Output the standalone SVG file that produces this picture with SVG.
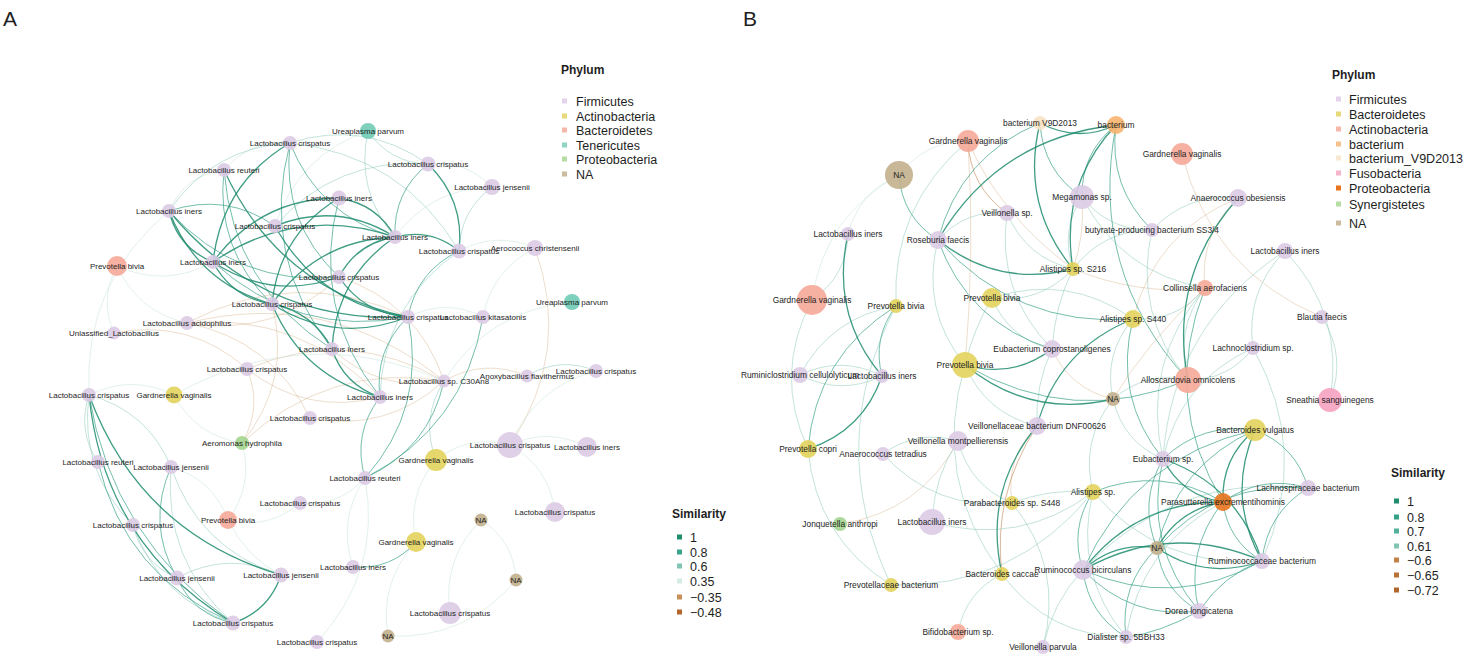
<svg xmlns="http://www.w3.org/2000/svg" width="1466" height="659" viewBox="0 0 1466 659">
<style>
text{font-family:"Liberation Sans",Arial,sans-serif;fill:#1e1e1e}
.lbA text,.lbB text{text-anchor:middle;dominant-baseline:central}
.lbA text{font-size:8px}
.lbB text{font-size:8.4px}
.ttl{font-size:21px}
.lh{font-size:12px;font-weight:bold}
.li{font-size:12.5px}
path{fill:none}
.s1{stroke:#1f8c6e;stroke-width:1.3;opacity:.85}
.s8{stroke:#3aa389;stroke-width:1;opacity:.7}
.s6{stroke:#80c5b3;stroke-width:.8;opacity:.6}
.s3{stroke:#bfe0d6;stroke-width:.7;opacity:.65}
.n1{stroke:#cfa57a;stroke-width:.7;opacity:.55}
.n2{stroke:#b8743a;stroke-width:.8;opacity:.65}
circle{opacity:.9}
.fi{fill:#dccbe6}.ac{fill:#e3d35c}.ba{fill:#f5a898}.te{fill:#6fcbb5}.pr{fill:#a3d58f}.na{fill:#c2b08c}
.bo{fill:#f7b46e}.bc{fill:#f8e3c4}.fu{fill:#f6a2c0}.po{fill:#e8741e}
</style>

<text class="ttl" x="3" y="26">A</text>
<text class="ttl" x="743" y="26">B</text>

<g id="edges-A">
<path class="s3" d="M117 266Q99 299 114 333"/>
<path class="s3" d="M117 266Q166 288 213 262"/>
<path class="s3" d="M117 266Q138 312 187 323"/>
<path class="n1" d="M444 381Q330 288 187 323"/>
<path class="n1" d="M187 323Q275 338 339 277"/>
<path class="n1" d="M380 397Q302 312 187 323"/>
<path class="n1" d="M408 317Q296 265 187 323"/>
<path class="n1" d="M444 381Q349 326 247 369"/>
<path class="n1" d="M247 369Q307 416 380 397"/>
<path class="n1" d="M310 418Q386 433 444 381"/>
<path class="n1" d="M310 418Q272 340 187 323"/>
<path class="n1" d="M444 381Q328 362 242 443"/>
<path class="n1" d="M242 443Q292 381 272 304"/>
<path class="n1" d="M242 443Q263 407 247 369"/>
<path class="s3" d="M444 381Q306 321 174 395"/>
<path class="s3" d="M174 395Q132 374 89 395"/>
<path class="s3" d="M174 395Q196 436 242 443"/>
<path class="s3" d="M228 520Q254 485 242 443"/>
<path class="s3" d="M228 520Q268 530 300 503"/>
<path class="s3" d="M228 520Q213 479 171 467"/>
<path class="s3" d="M300 503Q339 507 365 478"/>
<path class="s3" d="M555 512Q549 467 510 445"/>
<path class="s3" d="M587 447Q549 427 510 445"/>
<path class="s3" d="M510 445Q469 434 436 460"/>
<path class="n1" d="M510 445Q572 353 535 248"/>
<path class="s3" d="M516 580Q514 541 481 520"/>
<path class="s3" d="M481 520Q442 559 450 613"/>
<path class="s3" d="M388 636Q466 640 516 580"/>
<path class="s3" d="M416 542Q379 582 388 636"/>
<path class="s3" d="M572 302Q488 310 444 381"/>
<path class="n1" d="M527 376Q484 358 444 381"/>
<path class="n1" d="M332 349Q380 393 444 381"/>
<path class="n1" d="M444 381Q418 303 339 277"/>
<path class="n1" d="M247 369Q190 318 114 333"/>
<path class="s3" d="M596 371Q535 387 510 445"/>
<path class="s3" d="M436 460Q406 496 416 542"/>
<path class="s3" d="M492 187Q466 160 428 164"/>
<path class="s3" d="M492 187Q431 188 395 237"/>
<path class="s3" d="M169 211Q83 283 89 395"/>
<path class="s3" d="M290 143Q250 140 224 170"/>
<path class="s3" d="M368 131Q298 155 275 226"/>
<path class="s3" d="M224 170Q185 175 169 211"/>
<path class="s3" d="M365 478Q337 520 353 567"/>
<path class="s3" d="M483 317Q446 298 408 317"/>
<path class="s3" d="M317 642Q382 572 365 478"/>
<path class="s3" d="M228 520Q247 558 281 575"/>
<path class="s3" d="M535 248Q492 270 483 317"/>
<path class="s3" d="M535 248Q496 231 459 251"/>
<path class="s6" d="M444 381Q420 419 436 460"/>
<path class="s6" d="M596 371Q560 356 527 376"/>
<path class="s6" d="M492 187Q460 211 459 251"/>
<path class="s6" d="M368 131Q355 191 395 237"/>
<path class="s6" d="M368 131Q390 163 428 164"/>
<path class="s6" d="M290 143Q213 147 169 211"/>
<path class="s6" d="M459 251Q402 155 290 143"/>
<path class="s6" d="M428 164Q336 157 275 226"/>
<path class="s6" d="M459 251Q383 304 380 397"/>
<path class="s6" d="M428 164Q364 119 290 143"/>
<path class="s6" d="M133 525Q142 563 177 578"/>
<path class="s6" d="M89 395Q79 471 133 525"/>
<path class="s6" d="M171 467Q148 411 89 395"/>
<path class="s6" d="M281 575Q228 550 177 578"/>
<path class="s6" d="M171 467Q199 549 281 575"/>
<path class="s6" d="M133 525Q159 599 233 623"/>
<path class="s6" d="M89 395Q77 431 98 462"/>
<path class="s6" d="M171 467Q163 561 233 623"/>
<path class="s8" d="M380 397Q352 434 365 478"/>
<path class="s8" d="M365 478Q429 449 444 381"/>
<path class="s8" d="M365 478Q427 408 408 317"/>
<path class="s8" d="M365 478Q464 427 483 317"/>
<path class="s8" d="M353 567Q391 570 416 542"/>
<path class="s8" d="M98 462Q125 576 233 623"/>
<path class="s8" d="M177 578Q194 615 233 623"/>
<path class="s8" d="M171 467Q146 524 177 578"/>
<path class="s8" d="M89 395Q112 538 233 623"/>
<path class="s1" d="M89 395Q104 545 233 623"/>
<path class="s1" d="M89 395Q140 533 281 575"/>
<path class="s1" d="M233 623Q269 611 281 575"/>
<path class="s8" d="M339 198Q310 308 380 397"/>
<path class="s8" d="M290 143Q281 222 339 277"/>
<path class="s8" d="M290 143Q260 257 332 349"/>
<path class="s8" d="M428 164Q393 192 395 237"/>
<path class="s8" d="M224 170Q233 287 332 349"/>
<path class="s8" d="M459 251Q417 271 408 317"/>
<path class="s8" d="M408 317Q374 350 380 397"/>
<path class="s8" d="M275 226Q226 192 169 211"/>
<path class="s8" d="M169 211Q238 287 339 277"/>
<path class="s8" d="M213 262Q297 338 408 317"/>
<path class="s8" d="M290 143Q319 216 395 237"/>
<path class="s8" d="M224 170Q215 249 272 304"/>
<path class="s1" d="M169 211Q178 248 213 262"/>
<path class="s1" d="M395 237Q298 204 213 262"/>
<path class="s1" d="M339 198Q260 198 213 262"/>
<path class="s1" d="M213 262Q272 301 339 277"/>
<path class="s1" d="M213 262Q232 298 272 304"/>
<path class="s1" d="M169 211Q197 283 272 304"/>
<path class="s1" d="M169 211Q262 324 408 317"/>
<path class="s1" d="M275 226Q319 305 408 317"/>
<path class="s1" d="M395 237Q338 201 275 226"/>
<path class="s1" d="M272 304Q337 345 408 317"/>
<path class="s1" d="M272 304Q303 378 380 397"/>
<path class="s1" d="M339 198Q279 234 272 304"/>
<path class="s1" d="M290 143Q222 183 213 262"/>
<path class="s1" d="M459 251Q465 200 428 164"/>
<path class="s1" d="M224 170Q279 290 408 317"/>
<path class="s1" d="M395 237Q336 277 332 349"/>
<path class="s1" d="M395 237Q357 243 339 277"/>
<path class="s1" d="M339 277Q364 314 408 317"/>
<path class="s1" d="M459 251Q431 228 395 237"/>
<path class="s1" d="M332 349Q344 385 380 397"/>
<path class="s1" d="M395 237Q317 240 272 304"/>
<path class="s1" d="M395 237Q377 204 339 198"/>
<path class="s1" d="M332 349Q313 312 272 304"/>
</g>

<g id="edges-B">
<path class="s3" d="M899 175Q859 192 848 234"/>
<path class="s3" d="M899 175Q925 141 968 141"/>
<path class="s3" d="M899 175Q824 216 812 300"/>
<path class="n1" d="M965 365Q975 253 968 141"/>
<path class="n1" d="M968 141Q1000 215 1073 269"/>
<path class="n2" d="M968 141Q970 187 1007 213"/>
<path class="n1" d="M1182 154Q1211 271 1322 317"/>
<path class="n1" d="M1238 198Q1199 235 1205 288"/>
<path class="n1" d="M1238 198Q1155 232 1133 319"/>
<path class="n1" d="M1052 349Q1070 389 1113 399"/>
<path class="n1" d="M1073 269Q1140 296 1205 288"/>
<path class="n1" d="M1082 197Q1085 235 1073 269"/>
<path class="n1" d="M1205 288Q1145 345 1113 399"/>
<path class="n1" d="M1037 426Q1005 458 1012 503"/>
<path class="n1" d="M840 524Q920 512 958 441"/>
<path class="n2" d="M1037 426Q992 495 1002 574"/>
<path class="s6" d="M968 141Q891 206 896 306"/>
<path class="s6" d="M1082 197Q1060 231 1073 269"/>
<path class="s6" d="M1082 197Q1109 231 1152 230"/>
<path class="s6" d="M1082 197Q1121 273 1205 288"/>
<path class="s6" d="M1238 198Q1187 193 1152 230"/>
<path class="s6" d="M1330 400Q1345 314 1285 251"/>
<path class="s6" d="M1285 251Q1245 292 1253 348"/>
<path class="s6" d="M1330 400Q1347 357 1322 317"/>
<path class="s6" d="M812 300Q773 374 808 449"/>
<path class="s6" d="M812 300Q847 276 848 234"/>
<path class="s6" d="M896 306Q831 317 800 375"/>
<path class="s6" d="M800 375Q841 396 882 376"/>
<path class="s6" d="M882 376Q841 355 800 375"/>
<path class="s6" d="M992 298Q1009 339 1052 349"/>
<path class="s6" d="M992 298Q1040 304 1073 269"/>
<path class="s6" d="M1133 319Q1103 354 1113 399"/>
<path class="s6" d="M1133 319Q1177 322 1205 288"/>
<path class="s6" d="M1205 288Q1174 330 1188 380"/>
<path class="s6" d="M1205 288Q1141 363 1163 459"/>
<path class="s6" d="M1188 380Q1229 380 1253 348"/>
<path class="s6" d="M1188 380Q1146 371 1113 399"/>
<path class="s6" d="M1113 399Q1123 442 1163 459"/>
<path class="s6" d="M1113 399Q1080 441 1093 492"/>
<path class="s6" d="M1308 488Q1175 473 1083 570"/>
<path class="s6" d="M1223 502Q1141 545 1126 637"/>
<path class="s6" d="M1093 492Q1073 573 1126 637"/>
<path class="s6" d="M1093 492Q1160 569 1262 561"/>
<path class="s6" d="M958 441Q970 486 1012 503"/>
<path class="s6" d="M958 441Q917 429 883 454"/>
<path class="s6" d="M883 454Q935 511 1012 503"/>
<path class="s6" d="M808 449Q816 538 891 585"/>
<path class="s6" d="M932 522Q1020 547 1093 492"/>
<path class="s6" d="M1002 574Q966 592 958 632"/>
<path class="s6" d="M891 585Q1015 589 1093 492"/>
<path class="s6" d="M1043 647Q1064 567 1012 503"/>
<path class="s6" d="M1002 574Q1048 637 1126 637"/>
<path class="s6" d="M1262 561Q1311 452 1253 348"/>
<path class="s6" d="M1253 348Q1180 381 1163 459"/>
<path class="s6" d="M1152 230Q1103 230 1073 269"/>
<path class="s6" d="M1152 230Q1133 314 1188 380"/>
<path class="s6" d="M1007 213Q966 209 938 240"/>
<path class="s6" d="M1007 213Q996 292 1052 349"/>
<path class="s6" d="M1007 213Q1026 258 1073 269"/>
<path class="s6" d="M938 240Q920 309 965 365"/>
<path class="s6" d="M992 298Q973 330 965 365"/>
<path class="s6" d="M965 365Q986 414 1037 426"/>
<path class="s6" d="M965 365Q931 479 1002 574"/>
<path class="s6" d="M1073 269Q1055 305 1052 349"/>
<path class="s6" d="M1052 349Q1035 385 1037 426"/>
<path class="s6" d="M992 298Q1068 273 1133 319"/>
<path class="s6" d="M896 306Q824 444 891 585"/>
<path class="s6" d="M1285 251Q1172 325 1163 459"/>
<path class="s6" d="M1043 647Q1053 601 1083 570"/>
<path class="s6" d="M1012 503Q1050 488 1093 492"/>
<path class="s6" d="M932 522Q934 476 958 441"/>
<path class="s8" d="M899 175Q902 217 938 240"/>
<path class="s8" d="M1040 123Q960 156 938 240"/>
<path class="s8" d="M1040 123Q1043 171 1082 197"/>
<path class="s8" d="M1116 125Q1081 153 1082 197"/>
<path class="s8" d="M1116 125Q1108 187 1152 230"/>
<path class="s8" d="M896 306Q872 338 882 376"/>
<path class="s8" d="M896 306Q816 356 808 449"/>
<path class="s8" d="M965 365Q1073 428 1188 380"/>
<path class="s8" d="M1205 288Q1161 400 1223 502"/>
<path class="s8" d="M1255 430Q1202 422 1163 459"/>
<path class="s8" d="M1255 430Q1134 457 1083 570"/>
<path class="s8" d="M1255 430Q1177 465 1157 548"/>
<path class="s8" d="M1308 488Q1296 446 1255 430"/>
<path class="s8" d="M1163 459Q1143 544 1199 611"/>
<path class="s8" d="M1163 459Q1138 502 1157 548"/>
<path class="s8" d="M1308 488Q1262 474 1223 502"/>
<path class="s8" d="M1308 488Q1267 513 1262 561"/>
<path class="s8" d="M1308 488Q1218 480 1157 548"/>
<path class="s8" d="M1223 502Q1228 541 1262 561"/>
<path class="s8" d="M1223 502Q1184 551 1199 611"/>
<path class="s8" d="M1223 502Q1161 465 1093 492"/>
<path class="s8" d="M1157 548Q1162 590 1199 611"/>
<path class="s8" d="M1157 548Q1119 585 1126 637"/>
<path class="s8" d="M1083 570Q1175 610 1262 561"/>
<path class="s8" d="M1083 570Q1131 620 1199 611"/>
<path class="s8" d="M1083 570Q1088 614 1126 637"/>
<path class="s8" d="M1093 492Q1069 529 1083 570"/>
<path class="s8" d="M938 240Q968 323 1052 349"/>
<path class="s8" d="M938 240Q1016 328 1133 319"/>
<path class="s8" d="M1133 319Q1113 397 1163 459"/>
<path class="s8" d="M1116 125Q1088 271 1188 380"/>
<path class="s8" d="M1199 611Q1160 633 1126 637"/>
<path class="s8" d="M1262 561Q1224 574 1199 611"/>
<path class="s1" d="M938 240Q998 288 1073 269"/>
<path class="s1" d="M1116 125Q998 138 938 240"/>
<path class="s1" d="M1040 123Q1020 204 1073 269"/>
<path class="s1" d="M1116 125Q1059 186 1073 269"/>
<path class="s1" d="M1040 123Q1078 143 1116 125"/>
<path class="s1" d="M1238 198Q1168 277 1188 380"/>
<path class="s1" d="M848 234Q830 314 882 376"/>
<path class="s1" d="M808 449Q863 431 882 376"/>
<path class="s1" d="M965 365Q1013 379 1052 349"/>
<path class="s1" d="M965 365Q1031 419 1113 399"/>
<path class="s1" d="M1133 319Q1058 349 1037 426"/>
<path class="s1" d="M1255 430Q1221 458 1223 502"/>
<path class="s1" d="M1255 430Q1226 497 1262 561"/>
<path class="s1" d="M1163 459Q1182 496 1223 502"/>
<path class="s1" d="M1262 561Q1238 485 1163 459"/>
<path class="s1" d="M1223 502Q1179 509 1157 548"/>
<path class="s1" d="M1223 502Q1136 501 1083 570"/>
<path class="s1" d="M1157 548Q1206 581 1262 561"/>
<path class="s1" d="M1157 548Q1115 541 1083 570"/>
<path class="s1" d="M1262 561Q1170 521 1083 570"/>
<path class="s1" d="M1037 426Q983 491 1002 574"/>
</g>

<g id="nodes-A" class="lbA">
<g id="a1"><circle cx="368" cy="131" r="8" class="te"/><text x="368" y="131">Ureaplasma parvum</text></g>
<g id="a2"><circle cx="290" cy="143" r="7" class="fi"/><text x="290" y="143">Lactobacillus crispatus</text></g>
<g id="a3"><circle cx="428" cy="164" r="7.5" class="fi"/><text x="428" y="164">Lactobacillus crispatus</text></g>
<g id="a4"><circle cx="224" cy="170" r="7" class="fi"/><text x="224" y="170">Lactobacillus reuteri</text></g>
<g id="a5"><circle cx="492" cy="187" r="8" class="fi"/><text x="492" y="187">Lactobacillus jensenii</text></g>
<g id="a6"><circle cx="339" cy="198" r="7.5" class="fi"/><text x="339" y="198">Lactobacillus iners</text></g>
<g id="a7"><circle cx="169" cy="211" r="7" class="fi"/><text x="169" y="211">Lactobacillus iners</text></g>
<g id="a8"><circle cx="275" cy="226" r="7" class="fi"/><text x="275" y="226">Lactobacillus crispatus</text></g>
<g id="a9"><circle cx="395" cy="237" r="7" class="fi"/><text x="395" y="237">Lactobacillus iners</text></g>
<g id="a10"><circle cx="459" cy="251" r="7.5" class="fi"/><text x="459" y="251">Lactobacillus crispatus</text></g>
<g id="a11"><circle cx="535" cy="248" r="8" class="fi"/><text x="535" y="248">Aerococcus christensenii</text></g>
<g id="a12"><circle cx="117" cy="266" r="10" class="ba"/><text x="117" y="266">Prevotella bivia</text></g>
<g id="a13"><circle cx="213" cy="262" r="7" class="fi"/><text x="213" y="262">Lactobacillus iners</text></g>
<g id="a14"><circle cx="339" cy="277" r="7" class="fi"/><text x="339" y="277">Lactobacillus crispatus</text></g>
<g id="a15"><circle cx="572" cy="302" r="8" class="te"/><text x="572" y="302">Ureaplasma parvum</text></g>
<g id="a16"><circle cx="272" cy="304" r="7" class="fi"/><text x="272" y="304">Lactobacillus crispatus</text></g>
<g id="a17"><circle cx="408" cy="317" r="7" class="fi"/><text x="408" y="317">Lactobacillus crispatus</text></g>
<g id="a18"><circle cx="483" cy="317" r="7" class="fi"/><text x="483" y="317">Lactobacillus kitasatonis</text></g>
<g id="a19"><circle cx="187" cy="323" r="7" class="fi"/><text x="187" y="323">Lactobacillus acidophilus</text></g>
<g id="a20"><circle cx="114" cy="333" r="6.5" class="fi"/><text x="114" y="333">Unlassified_Lactobacillus</text></g>
<g id="a21"><circle cx="332" cy="349" r="7" class="fi"/><text x="332" y="349">Lactobacillus iners</text></g>
<g id="a22"><circle cx="247" cy="369" r="7" class="fi"/><text x="247" y="369">Lactobacillus crispatus</text></g>
<g id="a23"><circle cx="596" cy="371" r="7" class="fi"/><text x="596" y="371">Lactobacillus crispatus</text></g>
<g id="a24"><circle cx="527" cy="376" r="6.5" class="fi"/><text x="527" y="376">Anoxybacillus flavithermus</text></g>
<g id="a25"><circle cx="444" cy="381" r="6.5" class="fi"/><text x="444" y="381">Lactobacillus sp. C30An8</text></g>
<g id="a26"><circle cx="89" cy="395" r="7" class="fi"/><text x="89" y="395">Lactobacillus crispatus</text></g>
<g id="a27"><circle cx="174" cy="395" r="8.5" class="ac"/><text x="174" y="395">Gardnerella vaginalis</text></g>
<g id="a28"><circle cx="380" cy="397" r="7" class="fi"/><text x="380" y="397">Lactobacillus iners</text></g>
<g id="a29"><circle cx="310" cy="418" r="7" class="fi"/><text x="310" y="418">Lactobacillus crispatus</text></g>
<g id="a30"><circle cx="242" cy="443" r="7" class="pr"/><text x="242" y="443">Aeromonas hydrophila</text></g>
<g id="a31"><circle cx="510" cy="445" r="13" class="fi"/><text x="510" y="445">Lactobacillus crispatus</text></g>
<g id="a32"><circle cx="587" cy="447" r="10" class="fi"/><text x="587" y="447">Lactobacillus iners</text></g>
<g id="a33"><circle cx="436" cy="460" r="11" class="ac"/><text x="436" y="460">Gardnerella vaginalis</text></g>
<g id="a34"><circle cx="98" cy="462" r="7" class="fi"/><text x="98" y="462">Lactobacillus reuteri</text></g>
<g id="a35"><circle cx="171" cy="467" r="7" class="fi"/><text x="171" y="467">Lactobacillus jensenii</text></g>
<g id="a36"><circle cx="365" cy="478" r="7" class="fi"/><text x="365" y="478">Lactobacillus reuteri</text></g>
<g id="a37"><circle cx="300" cy="503" r="7" class="fi"/><text x="300" y="503">Lactobacillus crispatus</text></g>
<g id="a38"><circle cx="555" cy="512" r="10" class="fi"/><text x="555" y="512">Lactobacillus crispatus</text></g>
<g id="a39"><circle cx="481" cy="520" r="6.5" class="na"/><text x="481" y="520">NA</text></g>
<g id="a40"><circle cx="228" cy="520" r="9" class="ba"/><text x="228" y="520">Prevotella bivia</text></g>
<g id="a41"><circle cx="133" cy="525" r="7" class="fi"/><text x="133" y="525">Lactobacillus crispatus</text></g>
<g id="a42"><circle cx="416" cy="542" r="10" class="ac"/><text x="416" y="542">Gardnerella vaginalis</text></g>
<g id="a43"><circle cx="353" cy="567" r="7" class="fi"/><text x="353" y="567">Lactobacillus iners</text></g>
<g id="a44"><circle cx="281" cy="575" r="7.5" class="fi"/><text x="281" y="575">Lactobacillus jensenii</text></g>
<g id="a45"><circle cx="177" cy="578" r="7.5" class="fi"/><text x="177" y="578">Lactobacillus jensenii</text></g>
<g id="a46"><circle cx="516" cy="580" r="6.5" class="na"/><text x="516" y="580">NA</text></g>
<g id="a47"><circle cx="450" cy="613" r="11" class="fi"/><text x="450" y="613">Lactobacillus crispatus</text></g>
<g id="a48"><circle cx="233" cy="623" r="7.5" class="fi"/><text x="233" y="623">Lactobacillus crispatus</text></g>
<g id="a49"><circle cx="388" cy="636" r="6.5" class="na"/><text x="388" y="636">NA</text></g>
<g id="a50"><circle cx="317" cy="642" r="7" class="fi"/><text x="317" y="642">Lactobacillus crispatus</text></g>
</g>

<g id="nodes-B" class="lbB">
<g id="b1"><circle cx="1040" cy="123" r="7" class="bc"/><text x="1040" y="123">bacterium V9D2013</text></g>
<g id="b2"><circle cx="1116" cy="125" r="9" class="bo"/><text x="1116" y="125">bacterium</text></g>
<g id="b3"><circle cx="968" cy="141" r="11" class="ba"/><text x="968" y="141">Gardnerella vaginalis</text></g>
<g id="b4"><circle cx="1182" cy="154" r="11" class="ba"/><text x="1182" y="154">Gardnerella vaginalis</text></g>
<g id="b5"><circle cx="899" cy="175" r="14" class="na"/><text x="899" y="175">NA</text></g>
<g id="b6"><circle cx="1082" cy="197" r="12" class="fi"/><text x="1082" y="197">Megamonas sp.</text></g>
<g id="b7"><circle cx="1238" cy="198" r="9" class="fi"/><text x="1238" y="198">Anaerococcus obesiensis</text></g>
<g id="b8"><circle cx="1007" cy="213" r="8" class="fi"/><text x="1007" y="213">Veillonella sp.</text></g>
<g id="b9"><circle cx="1152" cy="230" r="7" class="fi"/><text x="1152" y="230">butyrate-producing bacterium SS3/4</text></g>
<g id="b10"><circle cx="848" cy="234" r="7" class="fi"/><text x="848" y="234">Lactobacillus iners</text></g>
<g id="b11"><circle cx="938" cy="240" r="9" class="fi"/><text x="938" y="240">Roseburia faecis</text></g>
<g id="b12"><circle cx="1285" cy="251" r="8" class="fi"/><text x="1285" y="251">Lactobacillus iners</text></g>
<g id="b13"><circle cx="1073" cy="269" r="7" class="ac"/><text x="1073" y="269">Alistipes sp. S216</text></g>
<g id="b14"><circle cx="1205" cy="288" r="8" class="ba"/><text x="1205" y="288">Collinsella aerofaciens</text></g>
<g id="b15"><circle cx="812" cy="300" r="15" class="ba"/><text x="812" y="300">Gardnerella vaginalis</text></g>
<g id="b16"><circle cx="896" cy="306" r="7" class="ac"/><text x="896" y="306">Prevotella bivia</text></g>
<g id="b17"><circle cx="992" cy="298" r="10" class="ac"/><text x="992" y="298">Prevotella bivia</text></g>
<g id="b18"><circle cx="1133" cy="319" r="9" class="ac"/><text x="1133" y="319">Alistipes sp. S440</text></g>
<g id="b19"><circle cx="1322" cy="317" r="7" class="fi"/><text x="1322" y="317">Blautia faecis</text></g>
<g id="b20"><circle cx="1253" cy="348" r="7" class="fi"/><text x="1253" y="348">Lachnoclostridium sp.</text></g>
<g id="b21"><circle cx="1052" cy="349" r="9" class="fi"/><text x="1052" y="349">Eubacterium coprostanoligenes</text></g>
<g id="b22"><circle cx="965" cy="365" r="13" class="ac"/><text x="965" y="365">Prevotella bivia</text></g>
<g id="b23"><circle cx="800" cy="375" r="8" class="fi"/><text x="800" y="375">Ruminiclostridium cellulolyticum</text></g>
<g id="b24"><circle cx="882" cy="376" r="7" class="fi"/><text x="882" y="376">Lactobacillus iners</text></g>
<g id="b25"><circle cx="1188" cy="380" r="13" class="ba"/><text x="1188" y="380">Alloscardovia omnicolens</text></g>
<g id="b26"><circle cx="1113" cy="399" r="7" class="na"/><text x="1113" y="399">NA</text></g>
<g id="b27"><circle cx="1330" cy="400" r="12" class="fu"/><text x="1330" y="400">Sneathia sanguinegens</text></g>
<g id="b28"><circle cx="1037" cy="426" r="9" class="fi"/><text x="1037" y="426">Veillonellaceae bacterium DNF00626</text></g>
<g id="b29"><circle cx="1255" cy="430" r="11" class="ac"/><text x="1255" y="430">Bacteroides vulgatus</text></g>
<g id="b30"><circle cx="958" cy="441" r="10" class="fi"/><text x="958" y="441">Veillonella montpellierensis</text></g>
<g id="b31"><circle cx="808" cy="449" r="9" class="ac"/><text x="808" y="449">Prevotella copri</text></g>
<g id="b32"><circle cx="883" cy="454" r="7" class="fi"/><text x="883" y="454">Anaerococcus tetradius</text></g>
<g id="b33"><circle cx="1163" cy="459" r="8" class="fi"/><text x="1163" y="459">Eubacterium sp.</text></g>
<g id="b34"><circle cx="1308" cy="488" r="8" class="fi"/><text x="1308" y="488">Lachnospiraceae bacterium</text></g>
<g id="b35"><circle cx="1093" cy="492" r="8" class="ac"/><text x="1093" y="492">Alistipes sp.</text></g>
<g id="b36"><circle cx="1223" cy="502" r="9" class="po"/><text x="1223" y="502">Parasutterella excrementihominis</text></g>
<g id="b37"><circle cx="1012" cy="503" r="7" class="ac"/><text x="1012" y="503">Parabacteroides sp. S448</text></g>
<g id="b38"><circle cx="840" cy="524" r="7" class="pr"/><text x="840" y="524">Jonquetella anthropi</text></g>
<g id="b39"><circle cx="932" cy="522" r="13" class="fi"/><text x="932" y="522">Lactobacillus iners</text></g>
<g id="b40"><circle cx="1157" cy="548" r="7" class="na"/><text x="1157" y="548">NA</text></g>
<g id="b41"><circle cx="1262" cy="561" r="8" class="fi"/><text x="1262" y="561">Ruminococcaceae bacterium</text></g>
<g id="b42"><circle cx="1083" cy="570" r="10" class="fi"/><text x="1083" y="570">Ruminococcus bicirculans</text></g>
<g id="b43"><circle cx="1002" cy="574" r="7" class="ac"/><text x="1002" y="574">Bacteroides caccae</text></g>
<g id="b44"><circle cx="891" cy="585" r="7" class="ac"/><text x="891" y="585">Prevotellaceae bacterium</text></g>
<g id="b45"><circle cx="1199" cy="611" r="8" class="fi"/><text x="1199" y="611">Dorea longicatena</text></g>
<g id="b46"><circle cx="958" cy="632" r="8" class="ba"/><text x="958" y="632">Bifidobacterium sp.</text></g>
<g id="b47"><circle cx="1126" cy="637" r="7" class="fi"/><text x="1126" y="637">Dialister sp. 5BBH33</text></g>
<g id="b48"><circle cx="1043" cy="647" r="7" class="fi"/><text x="1043" y="647">Veillonella parvula</text></g>
</g>

<g id="legend-A-phylum">
<text class="lh" x="561" y="74">Phylum</text>
<rect x="562" y="98.5" width="5" height="5" fill="#e3d3ec"/><text class="li" x="576" y="105.5">Firmicutes</text>
<rect x="562" y="113.5" width="5" height="5" fill="#e6da7a"/><text class="li" x="576" y="120.5">Actinobacteria</text>
<rect x="562" y="127.5" width="5" height="5" fill="#f6b8ab"/><text class="li" x="576" y="134.5">Bacteroidetes</text>
<rect x="562" y="142.5" width="5" height="5" fill="#8ed5c4"/><text class="li" x="576" y="149.5">Tenericutes</text>
<rect x="562" y="156.5" width="5" height="5" fill="#b5dea5"/><text class="li" x="576" y="163.5">Proteobacteria</text>
<rect x="562" y="171.5" width="5" height="5" fill="#cbbca0"/><text class="li" x="576" y="178.5">NA</text>
</g>

<g id="legend-A-similarity">
<text class="lh" x="672" y="518">Similarity</text>
<rect x="677" y="534.5" width="5" height="5" fill="#1f8c6e"/><text class="li" x="690" y="541.5">1</text>
<rect x="677" y="549.5" width="5" height="5" fill="#3aa389"/><text class="li" x="690" y="556.5">0.8</text>
<rect x="677" y="563.5" width="5" height="5" fill="#80c5b3"/><text class="li" x="690" y="570.5">0.6</text>
<rect x="677" y="578.5" width="5" height="5" fill="#d5ebe4"/><text class="li" x="690" y="585.5">0.35</text>
<rect x="677" y="594.5" width="5" height="5" fill="#c89058"/><text class="li" x="690" y="601.5">−0.35</text>
<rect x="677" y="609.5" width="5" height="5" fill="#b5652a"/><text class="li" x="690" y="616.5">−0.48</text>
</g>

<g id="legend-B-phylum">
<text class="lh" x="1332" y="79">Phylum</text>
<rect x="1336" y="96.5" width="5" height="5" fill="#e3d3ec"/><text class="li" x="1349" y="103.5">Firmicutes</text>
<rect x="1336" y="111.5" width="5" height="5" fill="#e6da7a"/><text class="li" x="1349" y="118.5">Bacteroidetes</text>
<rect x="1336" y="126.5" width="5" height="5" fill="#f6b8ab"/><text class="li" x="1349" y="133.5">Actinobacteria</text>
<rect x="1336" y="141.5" width="5" height="5" fill="#f8c08a"/><text class="li" x="1349" y="148.5">bacterium</text>
<rect x="1336" y="155.5" width="5" height="5" fill="#f8e8d2"/><text class="li" x="1349" y="162.5">bacterium_V9D2013</text>
<rect x="1336" y="170.5" width="5" height="5" fill="#f7b5cd"/><text class="li" x="1349" y="177.5">Fusobacteria</text>
<rect x="1336" y="185.5" width="5" height="5" fill="#e8741e"/><text class="li" x="1349" y="192.5">Proteobacteria</text>
<rect x="1336" y="201.5" width="5" height="5" fill="#b5dea5"/><text class="li" x="1349" y="208.5">Synergistetes</text>
<rect x="1336" y="220.5" width="5" height="5" fill="#cbbca0"/><text class="li" x="1349" y="227.5">NA</text>
</g>

<g id="legend-B-similarity">
<text class="lh" x="1391" y="477">Similarity</text>
<rect x="1394" y="498.5" width="5" height="5" fill="#1f8c6e"/><text class="li" x="1407" y="505.5">1</text>
<rect x="1394" y="514.5" width="5" height="5" fill="#34a085"/><text class="li" x="1407" y="521.5">0.8</text>
<rect x="1394" y="528.5" width="5" height="5" fill="#52b198"/><text class="li" x="1407" y="535.5">0.7</text>
<rect x="1394" y="543.5" width="5" height="5" fill="#80c5b3"/><text class="li" x="1407" y="550.5">0.61</text>
<rect x="1394" y="557.5" width="5" height="5" fill="#c28046"/><text class="li" x="1407" y="564.5">−0.6</text>
<rect x="1394" y="572.5" width="5" height="5" fill="#b97234"/><text class="li" x="1407" y="579.5">−0.65</text>
<rect x="1394" y="587.5" width="5" height="5" fill="#b0652a"/><text class="li" x="1407" y="594.5">−0.72</text>
</g>
</svg>
